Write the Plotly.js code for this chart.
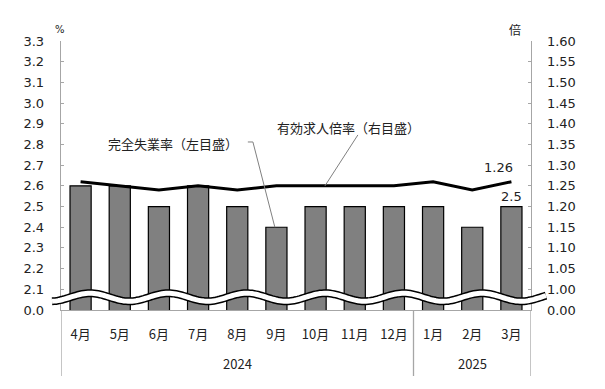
<!DOCTYPE html>
<html><head><meta charset="utf-8">
<script src="https://cdn.plot.ly/plotly-3.0.1.min.js"></script>
<style>body{margin:0;background:#fff}</style>
</head><body><div id="chart" style="width:605px;height:389px"></div>
<script>
// ---- data ----
const months = ['4月','5月','6月','7月','8月','9月','10月','11月','12月','1月','2月','3月'];
const years = ['2024','2025'];
const yearSpans = [9, 3];
const unemployment = [2.6,2.6,2.5,2.6,2.5,2.4,2.5,2.5,2.5,2.5,2.4,2.5];
const jobsRatio = [1.26,1.25,1.24,1.25,1.24,1.25,1.25,1.25,1.25,1.26,1.24,1.26];
const leftTickVals = [2.0,2.1,2.2,2.3,2.4,2.5,2.6,2.7,2.8,2.9,3.0,3.1,3.2,3.3];
const leftTickText = ['0.0','2.1','2.2','2.3','2.4','2.5','2.6','2.7','2.8','2.9','3.0','3.1','3.2','3.3'];
const rightTickVals = [0.95,1.00,1.05,1.10,1.15,1.20,1.25,1.30,1.35,1.40,1.45,1.50,1.55,1.60];
const rightTickText = ['0.00','1.00','1.05','1.10','1.15','1.20','1.25','1.30','1.35','1.40','1.45','1.50','1.55','1.60'];
const labelUnemp = '完全失業率（左目盛）';
const labelJobs = '有効求人倍率（右目盛）';

// ---- layout helpers ----
const W = 605, H = 389, L = 61, R = 74, T = 41, B = 79;
const pw = W - L - R, ph = H - T - B;
const idx = months.map((_, i) => i);
const numFont = 'DejaVu Sans, Noto Sans CJK JP, sans-serif';
const jpFont = 'Noto Sans CJK JP, sans-serif';
const txtColor = '#222';
const axisColor = '#a6a6a6';

const traces = [
  {type:'bar', x: idx, y: unemployment, yaxis:'y', width:0.54,
   marker:{color:'#808080', line:{color:'#000', width:1.2}}, hoverinfo:'skip'},
  {type:'scatter', mode:'lines', x: idx, y: jobsRatio, yaxis:'y2',
   line:{color:'#000', width:3}, hoverinfo:'skip'}
];

// break wave (decoration) in paper coords
function wavePath(){
  let pts = [];
  for (let px = 52; px <= 546; px += 2){
    const py = 297.25 - 4*Math.cos(2*Math.PI*(px-90)/78.4);
    pts.push(((px-L)/pw).toFixed(4)+','+((H-B-py)/ph).toFixed(4));
  }
  return 'M' + pts.join(' L');
}
const wp = wavePath();

const shapes = [
  {type:'path', xref:'paper', yref:'paper', path: wp, line:{color:'#000', width:8}},
  {type:'path', xref:'paper', yref:'paper', path: wp, line:{color:'#fff', width:5}}
];
// group dividers
let b = -0.5;
const bounds = [b];
yearSpans.forEach(s => { b += s; bounds.push(b); });
bounds.forEach(v => shapes.push({type:'line', xref:'x', yref:'paper', x0:v, x1:v, y0:0, y1:-66/ph,
  line:{color:axisColor, width:1.3}}));
// callout lines
shapes.push({type:'path', xref:'x', yref:'y', path:'M 4.27,2.812 L 4.40,2.812 L 4.96,' + unemployment[5],
  line:{color:'#808080', width:1}});
shapes.push({type:'path', xref:'x', yref:'y2', path:'M 7.08,1.373 L 6.24,' + jobsRatio[6],
  line:{color:'#808080', width:1}});

const annotations = [];
let start = 0;
years.forEach((yr, i) => {
  const center = start + (yearSpans[i]-1)/2;
  annotations.push({xref:'x', yref:'paper', x:center, y:-53/ph, text:yr, showarrow:false,
    font:{family:jpFont, size:13, color:txtColor}, yanchor:'middle'});
  start += yearSpans[i];
});
annotations.push({xref:'x', yref:'y', x:2.36, y:2.807, text:labelUnemp, showarrow:false,
  font:{family:jpFont, size:13, color:txtColor}});
annotations.push({xref:'x', yref:'y2', x:6.83, y:1.390, text:labelJobs, showarrow:false,
  font:{family:jpFont, size:13, color:txtColor}});
const last = months.length - 1;
annotations.push({xref:'x', yref:'y2', x:last, y:jobsRatio[last], text:jobsRatio[last].toFixed(2),
  showarrow:false, xshift:-13, yshift:14, font:{family:numFont, size:13, color:txtColor}});
annotations.push({xref:'x', yref:'y', x:last, y:unemployment[last], text:String(unemployment[last]),
  showarrow:false, yshift:10.5, font:{family:numFont, size:13, color:txtColor}});
annotations.push({xref:'paper', yref:'paper', x:(53-L)/pw, y:(H-B-22)/ph, text:'%', showarrow:false,
  font:{family:numFont, size:10, color:txtColor}});
annotations.push({xref:'paper', yref:'paper', x:(523-L)/pw, y:(H-B-19)/ph, text:'倍', showarrow:false,
  font:{family:jpFont, size:12, color:txtColor}});

const layout = {
  width: W, height: H,
  margin:{l:L, r:R, t:T, b:B, pad:0},
  paper_bgcolor:'#fff', plot_bgcolor:'#fff',
  showlegend:false,
  xaxis:{type:'linear', range:[-0.5, 11.5], tickmode:'array', tickvals:idx, ticktext:months,
    ticks:'', showgrid:false, zeroline:false, showline:true, linecolor:axisColor, linewidth:1.3,
    ticklabelstandoff:12, tickfont:{family:jpFont, size:13, color:txtColor}, fixedrange:true},
  yaxis:{range:[2.0, 3.3], tickmode:'array', tickvals:leftTickVals, ticktext:leftTickText,
    ticks:'inside', ticklen:3, tickcolor:axisColor, showgrid:false, zeroline:false,
    showline:true, linecolor:axisColor, linewidth:1.3, ticklabelstandoff:13,
    tickfont:{family:numFont, size:13, color:txtColor}},
  yaxis2:{overlaying:'y', side:'right', range:[0.95, 1.60], tickmode:'array', tickvals:rightTickVals,
    ticktext:rightTickText, ticks:'inside', ticklen:3, tickcolor:axisColor, showgrid:false,
    zeroline:false, showline:true, linecolor:axisColor, linewidth:1.3, ticklabelstandoff:12,
    tickfont:{family:numFont, size:13, color:txtColor}},
  shapes: shapes,
  annotations: annotations
};
Plotly.newPlot('chart', traces, layout, {staticPlot:true, displayModeBar:false});
</script></body></html>
